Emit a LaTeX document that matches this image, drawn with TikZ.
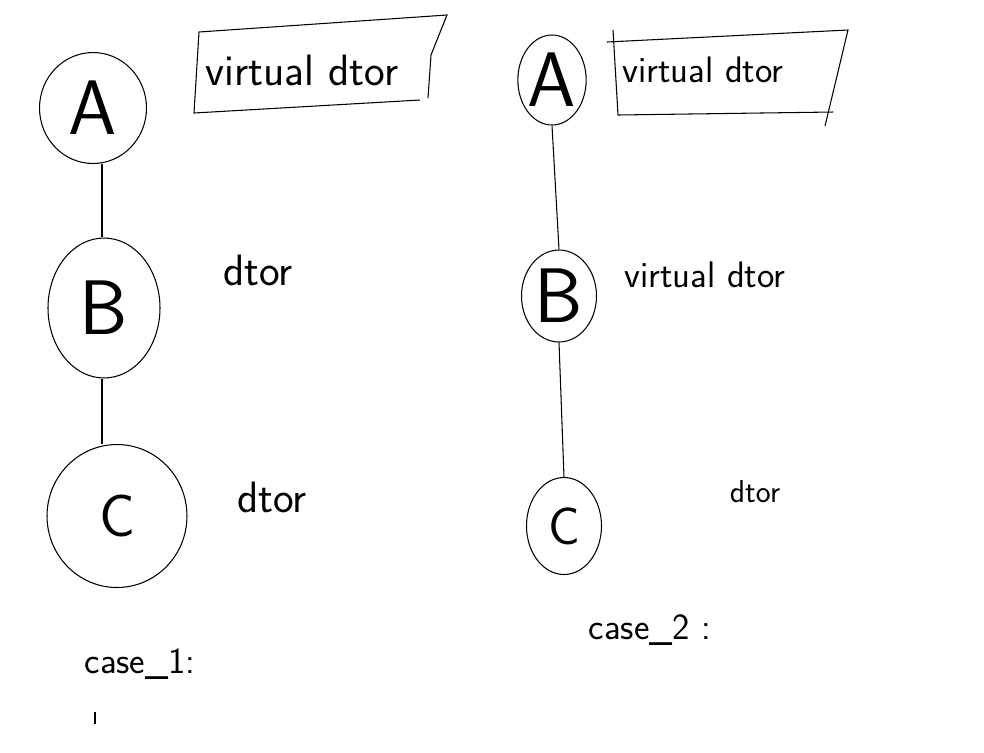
\documentclass[tikz,border=0pt]{standalone}
\usetikzlibrary{shapes.geometric}
\begin{document}
\begin{tikzpicture}[
	x=0.02cm, y=-0.02cm,
	line width=0.6pt,
	font=\sffamily,
	ball/.style={draw, ellipse, inner sep=0pt, font=\sffamily\fontsize{44}{48}\selectfont},
	note/.style={inner sep=1pt},
	big/.style={font=\sffamily\fontsize{25}{28}\selectfont},
	mid/.style={font=\sffamily\fontsize{21}{24}\selectfont},
	small/.style={font=\sffamily\fontsize{18}{20}\selectfont}]
   \useasboundingbox (0,0) rectangle (984,752);
   \node[ball, minimum width=2.14cm, minimum height=2.22cm] (la) at (93,108) {A};
   \node[ball, minimum width=2.24cm, minimum height=2.8cm] (lb) at (104,308) {B};
   \node[ball, minimum width=2.8cm, minimum height=2.86cm, font=\sffamily\fontsize{34}{38}\selectfont] (lc) at (117,516) {C};
   \draw (la.south -| 102,0) -- (lb.north -| 102,0);
   \draw (lb.south -| 102,0) -- (lc.north -| 102,0);
   \node[note, big] (lvirt) at (302,70) {virtual dtor};
   \draw (420,100) -- (194,113) -- (199,32) -- (447,15) -- (431,55) -- (428,98);
   \node[note, big] (lbdtor) at (258,270) {dtor};
   \node[note, big] (lcdtor) at (272,497) {dtor};
   \node[note, mid] (case1) at (140,664) {case\_1:};
   \draw (95,712) -- (95,724);
   \node[ball, minimum width=1.3cm, minimum height=1.8cm] (ra) at (552,80) {A};
   \node[ball, minimum width=1.5cm, minimum height=1.84cm] (rb) at (559,296) {B};
   \node[ball, minimum width=1.5cm, minimum height=1.94cm, font=\sffamily\fontsize{30}{34}\selectfont] (rc) at (564,526) {C};
   \draw (ra.south) -- (rb.north);
   \draw (rb.south) -- (rc.north);
   \node[note, mid] (rvirt) at (703,70) {virtual dtor};
   \draw (607,42) -- (848,30) -- (825,126);
   \draw (613,30) -- (618,115) -- (833,112);
   \node[note, mid] (rbdtor) at (705,275) {virtual dtor};
   \node[note, small] (rcdtor) at (755,492) {dtor};
   \node[note, mid] (case2) at (650,630) {case\_2 :};
\end{tikzpicture}
\end{document}
